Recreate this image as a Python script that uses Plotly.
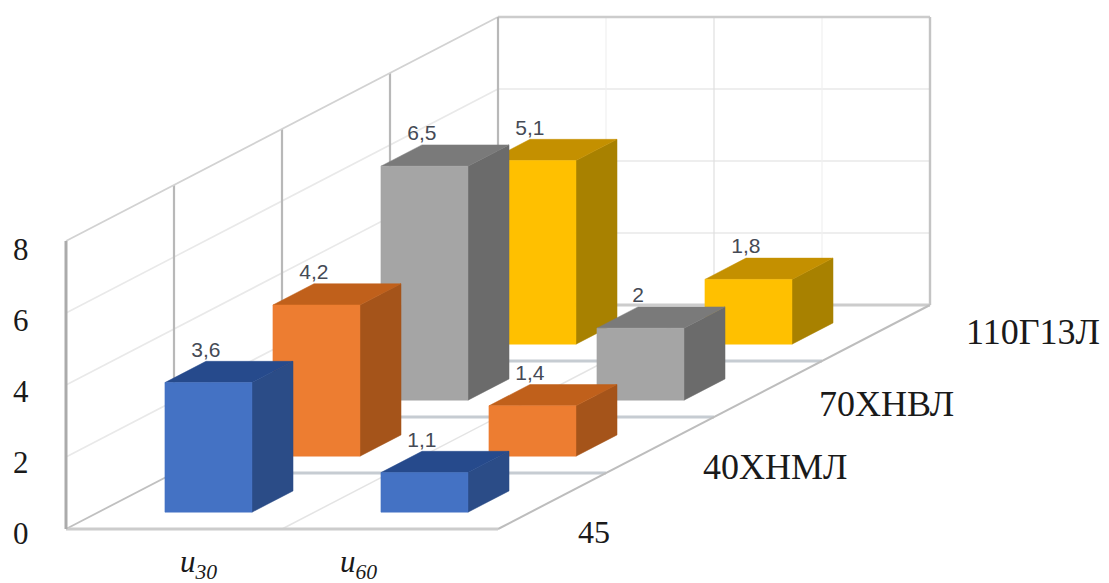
import plotly.graph_objects as go

# Chart data
categories = ["u30", "u60"]
materials = ["45", "40ХНМЛ", "70ХНВЛ", "110Г13Л"]
values_45 = [3.6, 1.1]
values_40 = [4.2, 1.4]
values_70 = [6.5, 2.0]
values_110 = [5.1, 1.8]
value_ticks = [0, 2, 4, 6, 8]

series_values = [values_45, values_40, values_70, values_110]

# Face colours per series: front, top, side
front_colors = ["#4472C4", "#ED7D31", "#A5A5A5", "#FFC000"]
top_colors = ["#264A8C", "#C0601B", "#7A7A7A", "#C49000"]
side_colors = ["#2B4C87", "#A5541A", "#6B6B6B", "#A88100"]

# Oblique projection of the 3D box onto the page
ORIGIN_X, ORIGIN_Y = 66, 529
CAT_W = 216          # page width of one category
DEPTH_X, DEPTH_Y = 108, 56  # page shift for one material row
UNIT_Z = 36          # page height of one value unit
BAR_X0, BAR_X1 = 0.308, 0.711
BAR_D0, BAR_D1 = 0.30, 0.68
Z_MAX = value_ticks[-1]


def project(cat, depth, z):
    return (ORIGIN_X + cat * CAT_W + depth * DEPTH_X,
            ORIGIN_Y - depth * DEPTH_Y - z * UNIT_Z)


def polygon(points, color, name):
    pts = [project(*p) for p in points]
    pts.append(pts[0])
    return go.Scatter(x=[p[0] for p in pts], y=[p[1] for p in pts], mode="lines",
                      fill="toself", fillcolor=color, line=dict(width=0.5, color=color),
                      hoverinfo="text", text=name, showlegend=False)


def segment(p0, p1, color, width):
    a, b = project(*p0), project(*p1)
    return go.Scatter(x=[a[0], b[0]], y=[a[1], b[1]], mode="lines",
                      line=dict(color=color, width=width),
                      hoverinfo="skip", showlegend=False)


fig = go.Figure()
n_cat = len(categories)
n_dep = len(materials)

# Faint value gridlines on both walls
for v in value_ticks[1:-1]:
    fig.add_trace(segment((0, 0, v), (0, n_dep, v), "#e9e9e9", 1.6))
    fig.add_trace(segment((0, n_dep, v), (n_cat, n_dep, v), "#e9e9e9", 1.6))

# Faint vertical lines on the back wall and floor runners
for c, col in [(0.5, "#f0f0f0"), (1.0, "#e0e0e0"), (1.5, "#f0f0f0")]:
    fig.add_trace(segment((c, n_dep, 0), (c, n_dep, Z_MAX), col, 1.2))
fig.add_trace(segment((1, 0, 0), (1, n_dep, 0), "#e4e4e4", 1.5))

# Row lines on the floor
for d in range(1, n_dep):
    fig.add_trace(segment((0, d, 0), (n_cat, d, 0), "#c6ccd2", 2.8))

# Left wall verticals
for d in range(1, n_dep):
    fig.add_trace(segment((0, d, 0), (0, d, Z_MAX), "#b8b8b8", 2.2))

# Box frame
fig.add_trace(segment((0, 0, Z_MAX), (0, n_dep, Z_MAX), "#d2d2d2", 1.8))
fig.add_trace(segment((0, n_dep, Z_MAX), (n_cat, n_dep, Z_MAX), "#cccccc", 2.4))
fig.add_trace(segment((n_cat, n_dep, Z_MAX), (n_cat, n_dep, 0), "#c4c4c4", 2.4))
fig.add_trace(segment((0, n_dep, 0), (n_cat, n_dep, 0), "#cccccc", 2.8))
fig.add_trace(segment((0, n_dep, 0), (0, n_dep, Z_MAX), "#b8b8b8", 2.2))
fig.add_trace(segment((0, 0, 0), (0, n_dep, 0), "#c0c0c0", 1.8))
fig.add_trace(segment((n_cat, 0, 0), (n_cat, n_dep, 0), "#bdbdbd", 2))
fig.add_trace(segment((0, 0, 0), (n_cat, 0, 0), "#cccccc", 3))
fig.add_trace(segment((0, 0, 0), (0, 0, Z_MAX), "#ababab", 3))

# Bars, painted from the back row to the front
for d in reversed(range(n_dep)):
    for c in range(n_cat):
        v = series_values[d][c]
        x0, x1 = c + BAR_X0, c + BAR_X1
        d0, d1 = d + BAR_D0, d + BAR_D1
        name = f"{materials[d]}, {categories[c]}: {v}"
        fig.add_trace(polygon([(x1, d0, 0), (x1, d1, 0), (x1, d1, v), (x1, d0, v)],
                              side_colors[d], name))
        fig.add_trace(polygon([(x0, d0, v), (x1, d0, v), (x1, d1, v), (x0, d1, v)],
                              top_colors[d], name))
        fig.add_trace(polygon([(x0, d0, 0), (x1, d0, 0), (x1, d0, v), (x0, d0, v)],
                              front_colors[d], name))

# Value labels above each bar
label_x, label_y, label_text = [], [], []
for d in range(n_dep):
    for c in range(n_cat):
        v = series_values[d][c]
        px, py = project(c + BAR_X0, d + BAR_D1, v)
        label_x.append(px)
        label_y.append(py - 10)
        label_text.append(f"{v:g}".replace(".", ","))
fig.add_trace(go.Scatter(x=label_x, y=label_y, mode="text", text=label_text,
                         textposition="middle center", hoverinfo="skip", showlegend=False,
                         textfont=dict(family="Liberation Sans", size=21, color="#454a55")))

SERIF = "Liberation Serif"

annotations = []
for v in value_ticks:
    annotations.append(dict(x=21, y=533 - 35.5 * v, text=str(v), showarrow=False,
                            xanchor="center", yanchor="middle",
                            font=dict(family=SERIF, size=31, color="#1a1a1a")))
for text, x, y, size in zip(materials, [594, 775, 886, 1033], [532, 467, 404, 332],
                            [32, 36, 36, 36]):
    annotations.append(dict(x=x, y=y, text=text, showarrow=False,
                            xanchor="center", yanchor="middle",
                            font=dict(family=SERIF, size=size, color="#1a1a1a")))
for label, x in zip(["30", "60"], [198, 358]):
    annotations.append(dict(x=x, y=564, text=f"<i>u<sub>{label}</sub></i>", showarrow=False,
                            xanchor="center", yanchor="middle",
                            font=dict(family=SERIF, size=31, color="#1a1a1a")))

fig.update_layout(
    width=1109, height=583, autosize=False,
    margin=dict(l=0, r=0, t=0, b=0),
    paper_bgcolor="white", plot_bgcolor="white",
    xaxis=dict(range=[0, 1109], visible=False, fixedrange=True),
    yaxis=dict(range=[583, 0], visible=False, fixedrange=True),
    annotations=annotations,
    showlegend=False,
)

fig.write_html("out.html")
